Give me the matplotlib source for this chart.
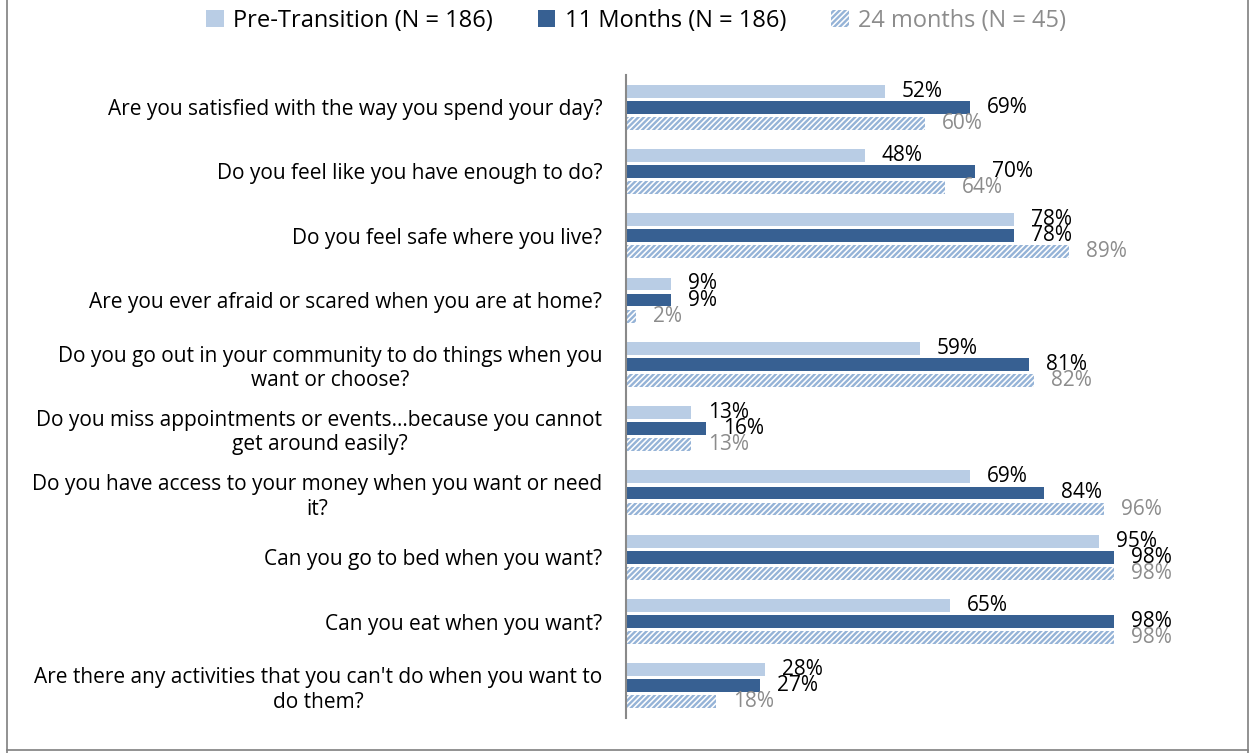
import numpy as np
import matplotlib.pyplot as plt
from matplotlib.patches import Patch
from matplotlib.lines import Line2D

plt.rcParams['font.family'] = ['Open Sans', 'DejaVu Sans']
plt.rcParams['hatch.linewidth'] = 1.7

questions = [
    "Are you satisfied with the way you spend your day?",
    "Do you feel like you have enough to do?",
    "Do you feel safe where you live?",
    "Are you ever afraid or scared when you are at home?",
    "Do you go out in your community to do things when you\nwant or choose?",
    "Do you miss appointments or events...because you cannot\nget around easily?",
    "Do you have access to your money when you want or need\nit?",
    "Can you go to bed when you want?",
    "Can you eat when you want?",
    "Are there any activities that you can't do when you want to\ndo them?",
]
pre = [52, 48, 78, 9, 59, 13, 69, 95, 65, 28]
m11 = [69, 70, 78, 9, 81, 16, 84, 98, 98, 27]
m24 = [60, 64, 89, 2, 82, 13, 96, 98, 98, 18]

series_names = ["Pre-Transition (N = 186)", "11 Months (N = 186)", "24 months (N = 45)"]

c_light = '#B9CDE5'
c_dark = '#376092'
c_hatch = '#95B3D7'
c_gray = '#8C8C8C'

fig = plt.figure(figsize=[12.5, 7.53], dpi=100)
ax = fig.add_axes([626/1250, 1-718/753, 498/1250, (718-75)/753])

y = np.arange(len(questions))
h = 0.2
step = 0.25
fs = 15

ax.barh(y - step, pre, height=h, color=c_light)
ax.barh(y, m11, height=h, color=c_dark)
ax.barh(y + step, m24, height=h, color='white', edgecolor=c_hatch, hatch='//////', linewidth=0)

off = 3.4
for i in range(len(questions)):
    ax.text(pre[i] + off, y[i] - step, f"{pre[i]}%", va='center', ha='left', fontsize=fs, color='black')
    ax.text(m11[i] + off, y[i], f"{m11[i]}%", va='center', ha='left', fontsize=fs, color='black')
    ax.text(m24[i] + off, y[i] + step, f"{m24[i]}%", va='center', ha='left', fontsize=fs, color=c_gray)

ax.set_xlim(0, 100)
ax.set_ylim(len(questions) - 0.5, -0.5)
ax.set_yticks(y)
ax.set_yticklabels(questions, fontsize=fs, multialignment='center')
ax.tick_params(axis='y', length=0, pad=17)
ax.set_xticks([])
for s in ['top', 'right', 'bottom']:
    ax.spines[s].set_visible(False)
ax.spines['left'].set_color('#898989')
ax.spines['left'].set_linewidth(1.5)

handles = [Patch(facecolor=c_light), Patch(facecolor=c_dark),
           Patch(facecolor='white', edgecolor=c_hatch, hatch='//////', linewidth=0)]
leg = fig.legend(handles, series_names, loc='center', bbox_to_anchor=(636/1250, 1-21/753),
                 ncol=3, frameon=False, fontsize=17, handlelength=0.75, handleheight=0.75,
                 handletextpad=0.4, columnspacing=1.9)
leg.get_texts()[2].set_color(c_gray)

# outer frame
fr = dict(color='#7F7F7F', linewidth=1.2, transform=fig.transFigure)
fig.add_artist(Line2D([7/1250, 7/1250], [0, 1], **fr))
fig.add_artist(Line2D([1248/1250, 1248/1250], [0, 1], **fr))
fig.add_artist(Line2D([7/1250, 1248/1250], [3/753, 3/753], **fr))

plt.savefig('out.png')
